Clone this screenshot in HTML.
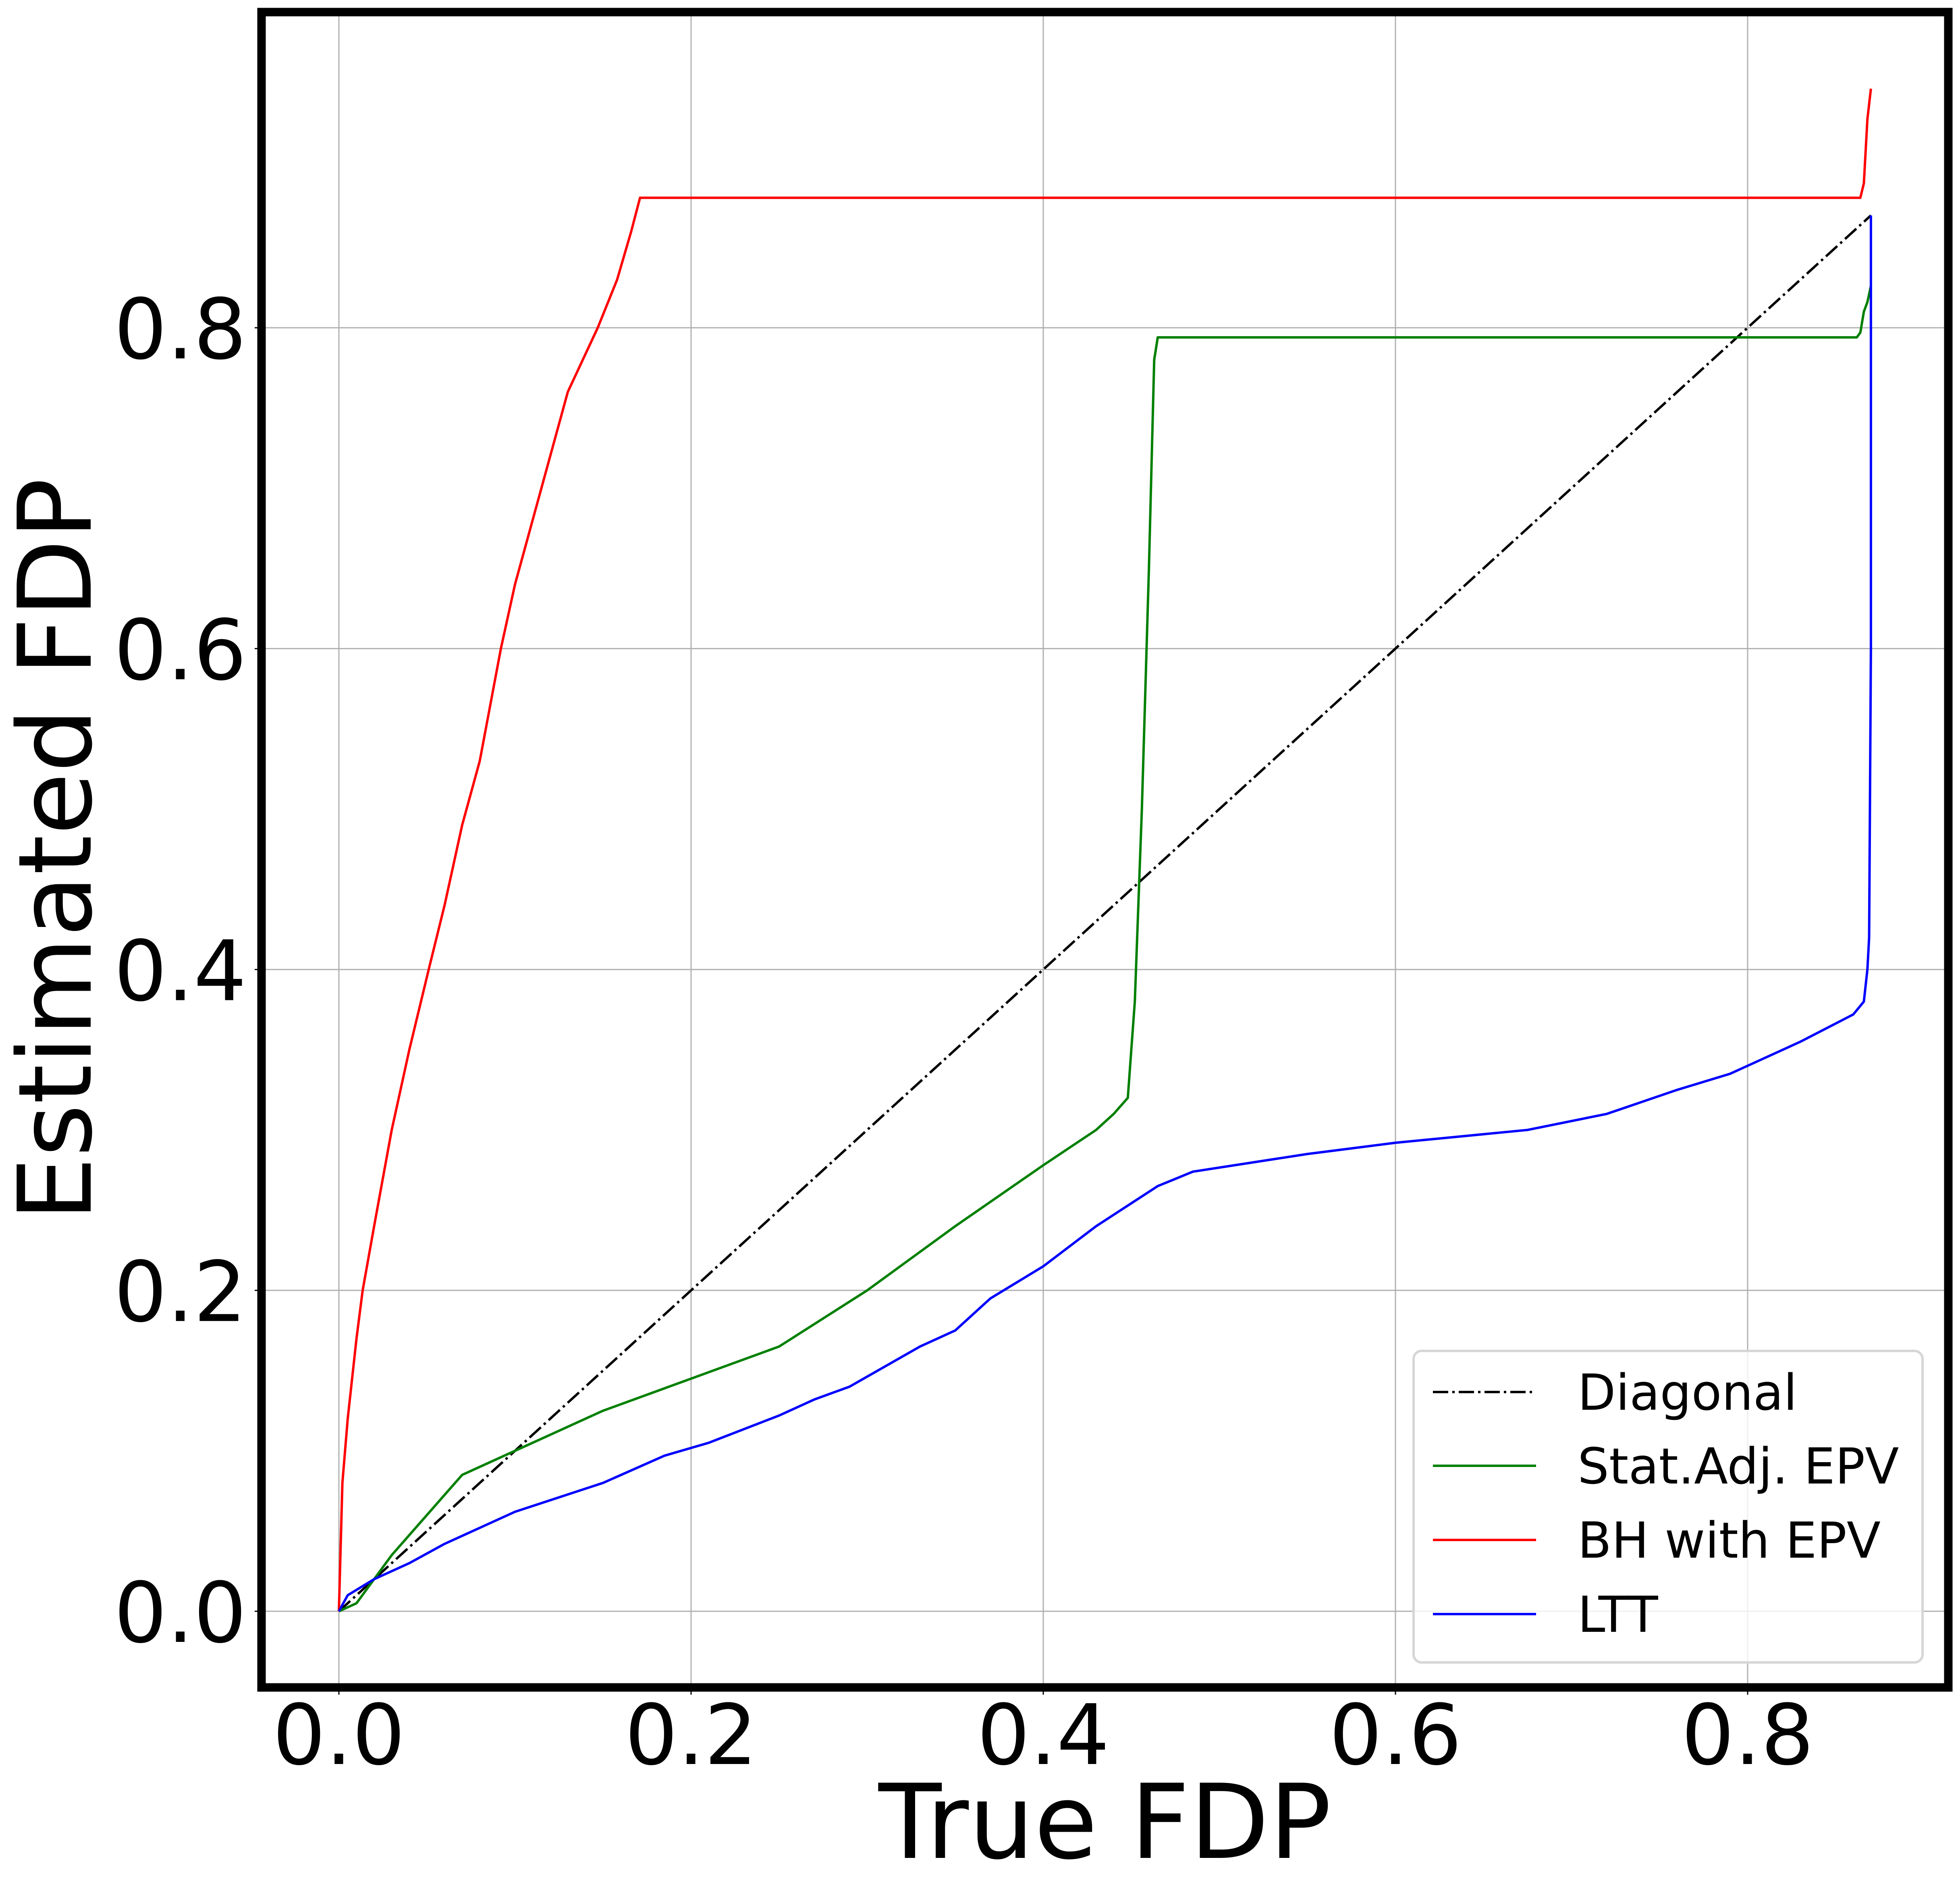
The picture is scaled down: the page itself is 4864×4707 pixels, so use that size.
<!DOCTYPE html>
<html><head><meta charset="utf-8"><style>
html,body{margin:0;padding:0;background:#fff;}
svg{display:block;font-family:"DejaVu Sans","Liberation Sans",sans-serif;}
</style></head><body>
<svg id="chart" width="4864" height="4707" viewBox="0 0 4864 4707" xmlns="http://www.w3.org/2000/svg">
<rect x="0" y="0" width="4864" height="4707" fill="#fff"/>
<g id="grid"></g>
<g id="series"></g>
<rect x="649" y="30" width="4186" height="4157" fill="none" stroke="#000" stroke-width="21"/>
<g id="ticks"></g>
<text x="2742" y="4610" font-size="256" text-anchor="middle">True FDP</text>
<text x="0" y="0" font-size="252" text-anchor="middle" transform="translate(225,2108) rotate(-90)">Estimated FDP</text>
<g id="legend">
<rect x="3508" y="3352" width="1263" height="773" rx="20" fill="#fff" fill-opacity="0.8" stroke="#d6d6d6" stroke-width="6"/>
<line x1="3556" y1="3454" x2="3812" y2="3454" stroke="#000" stroke-width="6" stroke-dasharray="38,10,6,10"/>
<text x="3915" y="3498" font-size="123">Diagonal</text>
<line x1="3556" y1="3637" x2="3812" y2="3637" stroke="#008000" stroke-width="6"/>
<text x="3915" y="3681" font-size="123">Stat.Adj. EPV</text>
<line x1="3556" y1="3821" x2="3812" y2="3821" stroke="#ff0000" stroke-width="6"/>
<text x="3915" y="3865" font-size="123">BH with EPV</text>
<line x1="3556" y1="4005" x2="3812" y2="4005" stroke="#0000ff" stroke-width="6"/>
<text x="3915" y="4049" font-size="123">LTT</text>
</g>
</svg>
<script>
const xTicks = [0, 0.2, 0.4, 0.6, 0.8];
const yTicks = [0, 0.2, 0.4, 0.6, 0.8];
const xTickLabels = ["0.0", "0.2", "0.4", "0.6", "0.8"];
const yTickLabels = ["0.0", "0.2", "0.4", "0.6", "0.8"];
const diagX = [0, 0.87];
const diagY = [0, 0.87];
const greenX = [0,0.01,0.02,0.03,0.05,0.07,0.1,0.15,0.2,0.25,0.3,0.35,0.4,0.43,0.44,0.448,0.452,0.456,0.46,0.463,0.465,0.862,0.864,0.866,0.868,0.87];
const greenY = [0,0.005,0.02,0.035,0.06,0.085,0.1,0.125,0.145,0.165,0.2,0.24,0.278,0.3,0.31,0.32,0.38,0.5,0.65,0.78,0.794,0.794,0.797,0.81,0.816,0.826];
const redX = [0,0.002,0.005,0.01,0.0135,0.02,0.03,0.04,0.051,0.06,0.07,0.08,0.092,0.1,0.11,0.12,0.13,0.147,0.158,0.166,0.171,0.864,0.866,0.868,0.87];
const redY = [0,0.08,0.12,0.17,0.2,0.24,0.3,0.35,0.4,0.44,0.49,0.53,0.6,0.64,0.68,0.72,0.76,0.8,0.83,0.86,0.881,0.881,0.89,0.93,0.949];
const blueX = [0,0.005,0.02,0.04,0.06,0.1,0.15,0.185,0.21,0.25,0.27,0.29,0.33,0.35,0.37,0.4,0.43,0.465,0.485,0.55,0.6,0.675,0.72,0.76,0.79,0.83,0.86,0.866,0.868,0.869,0.87,0.87];
const blueY = [0,0.01,0.02,0.03,0.042,0.062,0.08,0.097,0.105,0.122,0.132,0.14,0.165,0.175,0.195,0.215,0.24,0.265,0.274,0.285,0.292,0.3,0.31,0.325,0.335,0.355,0.372,0.38,0.4,0.42,0.6,0.87];

const NS = "http://www.w3.org/2000/svg";
function sx(v){ return 841 + v * 4370; }
function sy(v){ return 3998 - v * 3981; }
const grid = document.getElementById('grid');
const ticks = document.getElementById('ticks');
const series = document.getElementById('series');

xTicks.forEach((t, i) => {
  const g = document.createElementNS(NS, 'line');
  g.setAttribute('x1', sx(t)); g.setAttribute('x2', sx(t));
  g.setAttribute('y1', 30); g.setAttribute('y2', 4187);
  g.setAttribute('stroke', '#b0b0b0'); g.setAttribute('stroke-width', '3');
  
  
  grid.appendChild(g);
  const tk = document.createElementNS(NS, 'line');
  tk.setAttribute('x1', sx(t)); tk.setAttribute('x2', sx(t));
  tk.setAttribute('y1', 4187); tk.setAttribute('y2', 4205);
  tk.setAttribute('stroke', '#000'); tk.setAttribute('stroke-width', '3');
  
  
  ticks.appendChild(tk);
  const tx = document.createElementNS(NS, 'text');
  tx.setAttribute('x', sx(t)); tx.setAttribute('y', 4377);
  tx.setAttribute('font-size', '207'); tx.setAttribute('text-anchor', 'middle');
  tx.textContent = xTickLabels[i];
  
  
  ticks.appendChild(tx);
});
yTicks.forEach((t, i) => {
  const g = document.createElementNS(NS, 'line');
  g.setAttribute('x1', 649); g.setAttribute('x2', 4835);
  g.setAttribute('y1', sy(t)); g.setAttribute('y2', sy(t));
  g.setAttribute('stroke', '#b0b0b0'); g.setAttribute('stroke-width', '3');
  
  
  grid.appendChild(g);
  const tk = document.createElementNS(NS, 'line');
  tk.setAttribute('x1', 632); tk.setAttribute('x2', 649);
  tk.setAttribute('y1', sy(t)); tk.setAttribute('y2', sy(t));
  tk.setAttribute('stroke', '#000'); tk.setAttribute('stroke-width', '3');
  
  
  ticks.appendChild(tk);
  const tx = document.createElementNS(NS, 'text');
  tx.setAttribute('x', 612); tx.setAttribute('y', sy(t) + 76);
  tx.setAttribute('font-size', '207'); tx.setAttribute('text-anchor', 'end');
  tx.textContent = yTickLabels[i];
  
  
  ticks.appendChild(tx);
});

function addLine(xs, ys, color, name, dash){
  const p = document.createElementNS(NS, 'polyline');
  p.setAttribute('points', xs.map((x, i) => sx(x).toFixed(1) + ',' + sy(ys[i]).toFixed(1)).join(' '));
  p.setAttribute('fill', 'none'); p.setAttribute('stroke', color);
  p.setAttribute('stroke-width', '6'); p.setAttribute('stroke-linejoin', 'round');
  if (dash) p.setAttribute('stroke-dasharray', dash);
  
  
  series.appendChild(p);
}
addLine(diagX, diagY, '#000', 'diagonal-line', '38,10,6,10');
addLine(greenX, greenY, '#008000', 'stat-adj-epv-line');
addLine(redX, redY, '#ff0000', 'bh-with-epv-line');
addLine(blueX, blueY, '#0000ff', 'ltt-line');
</script>
</body></html>
